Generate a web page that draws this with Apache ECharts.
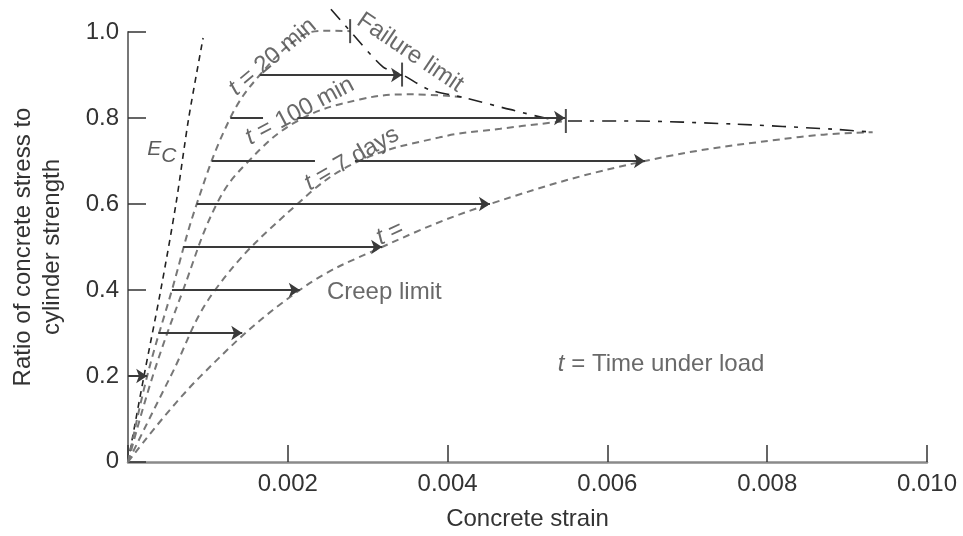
<!DOCTYPE html>
<html>
<head>
<meta charset="utf-8">
<script src="https://cdn.jsdelivr.net/npm/echarts@6/dist/echarts.min.js"></script>
<style>
html,body{margin:0;padding:0;background:#fff;}
#c{width:963px;height:536px;}
</style>
</head>
<body>
<div id="c"></div>
<script>
// ---------------- DATA ----------------
const xTickValues = [0, 0.002, 0.004, 0.006, 0.008, 0.010];
const xTickLabels = ['', '0.002', '0.004', '0.006', '0.008', '0.010'];
const yTickValues = [0, 0.2, 0.4, 0.6, 0.8, 1.0];
const yTickLabels = ['0', '0.2', '0.4', '0.6', '0.8', '1.0'];

// [strain, stress ratio]
const curveEc = [[0,0],[0.0002,0.2],[0.00041,0.4],[0.0006,0.6],[0.00076,0.8],[0.00094,0.986]];
const curve20min = [[0,0],[0.00024,0.2],[0.00055,0.4],[0.00086,0.6],[0.00128,0.8],[0.00165,0.9],[0.00215,0.988],[0.00247,1.003],[0.00278,1.002]];
const curve100min = [[0,0],[0.00031,0.2],[0.00069,0.4],[0.00111,0.6],[0.00149,0.696],[0.00212,0.793],[0.0029,0.843],[0.00355,0.855],[0.00424,0.848]];
const curve7days = [[0,0],[0.00053,0.198],[0.00109,0.4],[0.00212,0.6],[0.00287,0.698],[0.0039,0.755],[0.00466,0.775],[0.00548,0.793]];
const curveLongTime = [[0,0],[0.0009,0.198],[0.00215,0.4],[0.00318,0.5],[0.00453,0.6],[0.00647,0.7],[0.00841,0.756],[0.00932,0.767]];
const failureLimit = [[0.00254,1.053],[0.00278,1.002],[0.00319,0.919],[0.00343,0.901],[0.00377,0.866],[0.00424,0.846],[0.00478,0.82],[0.00548,0.793],[0.00632,0.793],[0.00757,0.786],[0.00882,0.774],[0.00932,0.767]];
const failureMarks = [[0.00278,1.002],[0.00343,0.901],[0.00548,0.793]];

// creep arrows (with heads)
const arrowRatios = [0.9, 0.8, 0.7, 0.6, 0.5, 0.4, 0.3, 0.2];
const arrowFrom   = [0.00165, 0.00212, 0.00284, 0.00086, 0.00069, 0.00055, 0.00038, 0];
const arrowTo     = [0.00343, 0.00547, 0.00647, 0.00453, 0.00318, 0.00215, 0.00143, 0.00024];
// arrow pieces before label gaps (no heads)
const stubRatios = [0.8, 0.7];
const stubFrom   = [0.00128, 0.00105];
const stubTo     = [0.00169, 0.00234];

// annotations: text, anchor [strain, ratio]
const annTexts   = ['t = 20 min', 't = 100 min', 't = 7 days', 'Failure limit', 't =', 'Creep limit', 't = Time under load', 'EC'];
const annAnchors = [[0.00181,0.942],[0.00215,0.816],[0.0028,0.705],[0.00353,0.952],[0.00328,0.532],[0.00249,0.394],[0.00538,0.228],[0.00024,0.728]];

// ---------------- CHART ----------------
const FONT = '"Liberation Sans", Arial, Helvetica, sans-serif';
const TXT = '#333';
const chart = echarts.init(document.getElementById('c'));

function curve(name, data, color, width, type, sm) {
  return {
    name, type: 'line', data, symbol: 'none', showSymbol: false,
    smooth: sm, clip: false, silent: true,
    lineStyle: { color, width, type }, z: 2
  };
}

function richT(s) {
  if (s.startsWith('t ')) return '{i|t}' + s.slice(1);
  if (s === 'EC') return '{e|E}{s|C}';
  return s;
}
const rich = {
  i: { fontStyle: 'italic', fontSize: 24, fontFamily: FONT, color: '#444' },
  e: { fontStyle: 'italic', fontSize: 21, fontFamily: FONT, color: '#333' },
  s: { fontStyle: 'italic', fontSize: 21, fontFamily: FONT, color: '#333', padding: [14, 0, 0, 0] }
};
const annRotate = [40, 28, 30, -34, 25, 0, 0, 0];
const annAlignLeft = [false, false, false, false, false, true, true, true];

const annData = annTexts.map((t, k) => ({
  value: annAnchors[k],
  label: {
    show: true,
    formatter: richT(t),
    rotate: annRotate[k],
    position: annAlignLeft[k] ? 'right' : 'inside',
    distance: 0,
    align: annAlignLeft[k] ? 'left' : 'center',
    verticalAlign: 'middle',
    fontSize: 24, fontFamily: FONT, color: '#444', rich
  }
}));

const arrowData = arrowRatios.map((r, k) => ({ coords: [[arrowFrom[k], r], [arrowTo[k], r]] }));
const stubData = stubRatios.map((r, k) => ({ coords: [[stubFrom[k], r], [stubTo[k], r]] }));

function idx(vals, v) {
  let best = 0;
  vals.forEach((t, k) => { if (Math.abs(t - v) < Math.abs(vals[best] - v)) best = k; });
  return best;
}

chart.setOption({
  animation: false,
  backgroundColor: '#fff',
  grid: { left: 128, top: 32, width: 799, height: 434 },
  xAxis: {
    type: 'value', min: 0, max: 0.010, interval: 0.002,
    name: 'Concrete strain', nameLocation: 'middle', nameGap: 45,
    nameTextStyle: { fontSize: 24, color: TXT, fontFamily: FONT },
    axisLine: { lineStyle: { color: '#8a8a8a', width: 2.5 } },
    axisTick: { inside: true, length: 17, lineStyle: { color: '#333', width: 1.5 } },
    axisLabel: { fontSize: 24, color: TXT, fontFamily: FONT, margin: 10,
      formatter: v => xTickLabels[idx(xTickValues, v)] },
    splitLine: { show: false }
  },
  yAxis: {
    type: 'value', min: 0, max: 1.0, interval: 0.2,
    name: 'Ratio of concrete stress to\ncylinder strength', nameLocation: 'middle',
    nameGap: 61, nameRotate: 90,
    nameTextStyle: { fontSize: 24, color: TXT, fontFamily: FONT, lineHeight: 29 },
    axisLine: { lineStyle: { color: '#777', width: 2 } },
    axisTick: { inside: true, length: 18, lineStyle: { color: '#333', width: 1.5 } },
    axisLabel: { fontSize: 24, color: TXT, fontFamily: FONT, margin: 9,
      formatter: v => { const s = yTickLabels[idx(yTickValues, v)]; return v === 0 ? '{z|' + s + '}' : s; },
      rich: { z: { fontSize: 24, color: TXT, fontFamily: FONT, padding: [0, 0, 2, 0] } } },
    splitLine: { show: false }
  },
  series: [
    curve('Ec', curveEc, '#222', 1.6, [6, 5], 0.3),
    curve('t20', curve20min, '#777', 2, [7, 5], 0.4),
    curve('t100', curve100min, '#777', 2, [7, 5], 0.4),
    curve('t7d', curve7days, '#777', 2, [7, 5], 0.4),
    curve('tinf', curveLongTime, '#777', 2, [7, 5], 0.4),
    curve('failure', failureLimit, '#222', 1.6, [14, 8, 4, 8], 0.25),
    {
      type: 'lines', coordinateSystem: 'cartesian2d', silent: true,
      data: arrowData, symbol: ['none', 'arrow'], symbolSize: 11,
      lineStyle: { color: '#3a3a3a', width: 2, opacity: 1 }, z: 3
    },
    {
      type: 'lines', coordinateSystem: 'cartesian2d', silent: true,
      data: stubData, symbol: ['none', 'none'],
      lineStyle: { color: '#3a3a3a', width: 2, opacity: 1 }, z: 3
    },
    {
      type: 'scatter', data: failureMarks, symbol: 'rect', symbolSize: [2, 24],
      itemStyle: { color: '#222' }, silent: true, clip: false, z: 4
    },
    {
      type: 'scatter', data: annData, symbolSize: 0, silent: true, clip: false, z: 5
    }
  ]
});
</script>
</body>
</html>
